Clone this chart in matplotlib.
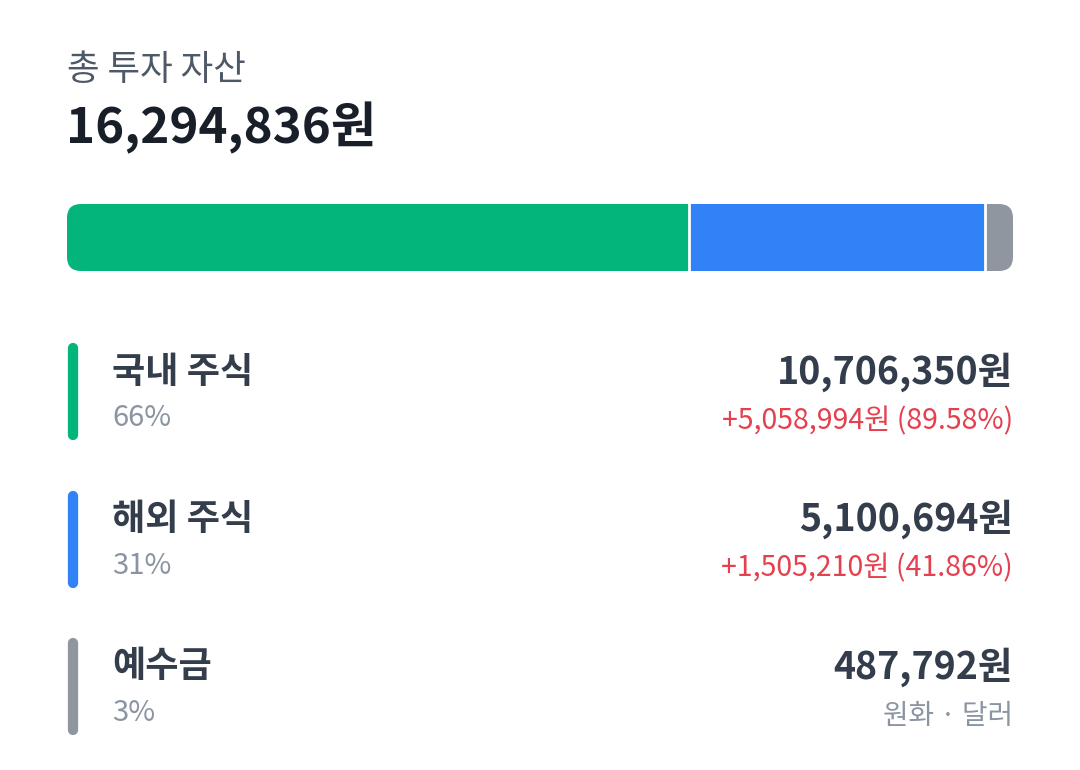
import matplotlib
matplotlib.use("Agg")
import matplotlib.pyplot as plt
from matplotlib.patches import FancyBboxPatch

plt.rcParams['font.family'] = ['Noto Sans CJK KR', 'DejaVu Sans']

title = "총 투자 자산"
categories = ["국내 주식", "해외 주식", "예수금"]
values = [10706350, 5100694, 487792]
percents = ["66%", "31%", "3%"]
gains = ["+5,058,994원 (89.58%)", "+1,505,210원 (41.86%)", None]
extra = [None, None, "원화 · 달러"]
colors = ["#03b47b", "#3182f6", "#8f96a0"]

total = sum(values)

W, H = 1080, 770
fig = plt.figure(figsize=(W / 100, H / 100), dpi=100)
fig.patch.set_facecolor("white")
bg = fig.add_axes([0, 0, 1, 1])
bg.set_xlim(0, W)
bg.set_ylim(H, 0)
bg.axis("off")

# header
bg.text(67, 70, title, fontsize=25.5, color="#4e5968", ha="left", va="center")
bg.text(66, 128, f"{total:,}원", fontsize=35.5, fontweight="bold", color="#191f28",
        ha="left", va="center")

# stacked bar
bx0, by0, bw, bh = 67, 204, 946, 67
bar_ax = fig.add_axes([bx0 / W, 1 - (by0 + bh) / H, bw / W, bh / H])
bar_ax.set_xlim(0, total)
bar_ax.set_ylim(-0.5, 0.5)
bar_ax.axis("off")
clip = FancyBboxPatch((bx0, by0), bw, bh, boxstyle="round,pad=0,rounding_size=14",
                      transform=bg.transData, facecolor="none", edgecolor="none")
bg.add_patch(clip)
left = 0
for v, c in zip(values, colors):
    bars = bar_ax.barh(0, v, left=left, height=1.0, color=c, edgecolor="none",
                       linewidth=0)
    for b in bars:
        b.set_clip_path(clip)
    left += v
    if left < total:
        bar_ax.axvline(left, color="white", linewidth=2.0)

# rows
row_top = 343
row_step = 147.5
for i, (cat, v, p, g, e, c) in enumerate(zip(categories, values, percents, gains, extra, colors)):
    y0 = row_top + i * row_step
    bg.plot([73, 73], [y0 + 5, y0 + 92], color=c, linewidth=7.4, solid_capstyle="round")
    bg.text(112, y0 + 29, cat, fontsize=26, fontweight="bold", color="#333d4b",
            ha="left", va="center")
    bg.text(112, y0 + 75, p, fontsize=21, color="#8b95a1", ha="left", va="center")
    bg.text(1013, y0 + 29, f"{v:,}원", fontsize=27, fontweight="bold", color="#333d4b",
            ha="right", va="center")
    sub = g if g is not None else e
    subc = "#e5404f" if g is not None else "#8b95a1"
    subsize = 20.5 if g is not None else 20
    bg.text(1013, y0 + 78, sub, fontsize=subsize, color=subc, ha="right", va="center")

fig.savefig("out.png", dpi=100, facecolor="white")
